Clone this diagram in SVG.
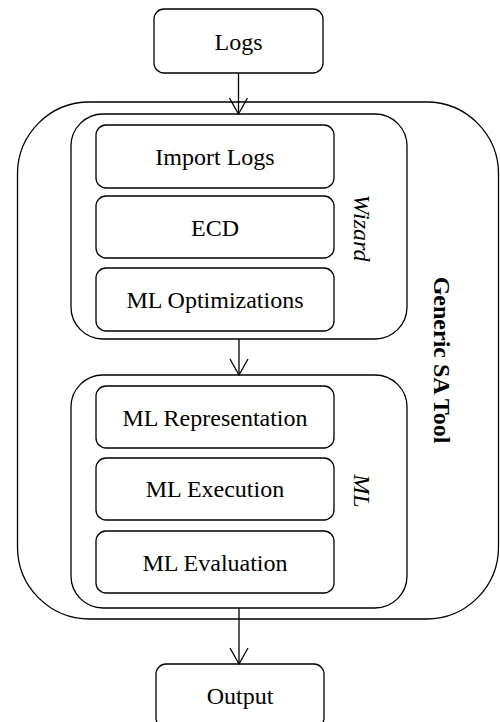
<svg xmlns="http://www.w3.org/2000/svg" width="500" height="722" viewBox="0 0 500 722">
<style>
.box{fill:#fff;stroke:#000;stroke-width:1.3}
.grp{fill:none;stroke:#000;stroke-width:1.3}
text{font-family:"Liberation Serif","DejaVu Serif",serif;font-size:24px;fill:#000;text-anchor:middle}
.it{font-style:italic}
.b{font-weight:bold}
.conn{fill:none;stroke:#000;stroke-width:1.3}
</style>
<defs>
<marker id="arr" markerUnits="userSpaceOnUse" markerWidth="20" markerHeight="20" viewBox="0 0 20 20" refX="17" refY="10" orient="auto">
<path d="M1,1 L17,10 L1,19" fill="none" stroke="#000" stroke-width="1.3"/>
</marker>
</defs>
<g id="generic-sa-tool">
<rect class="grp" x="17.5" y="102" width="481" height="517" rx="72"/>
<text class="b" font-family="Liberation Serif, serif" transform="translate(434 360) rotate(90)">Generic SA Tool</text>
</g>
<g id="wizard">
<rect class="grp" x="71" y="114" width="336" height="225" rx="32"/>
<text class="it" font-family="Liberation Serif, serif" transform="translate(354 228) rotate(90)">Wizard</text>
</g>
<g id="ml">
<rect class="grp" x="71" y="375" width="336" height="233" rx="32"/>
<text class="it" font-family="Liberation Serif, serif" transform="translate(354 491) rotate(90)">ML</text>
</g>
<g id="logs">
<rect class="box" x="154" y="9" width="169" height="64" rx="10"/>
<text font-family="Liberation Serif, serif" x="238.5" y="50">Logs</text>
</g>
<g id="import-logs">
<rect class="box" x="96" y="125" width="238" height="63" rx="10"/>
<text font-family="Liberation Serif, serif" x="215" y="165">Import Logs</text>
</g>
<g id="ecd">
<rect class="box" x="96" y="196" width="238" height="62" rx="10"/>
<text font-family="Liberation Serif, serif" x="215" y="235.5">ECD</text>
</g>
<g id="ml-optimizations">
<rect class="box" x="96" y="268" width="238" height="63" rx="10"/>
<text font-family="Liberation Serif, serif" x="215" y="308">ML Optimizations</text>
</g>
<g id="ml-representation">
<rect class="box" x="96" y="386" width="238" height="62" rx="10"/>
<text font-family="Liberation Serif, serif" x="215" y="425.5">ML Representation</text>
</g>
<g id="ml-execution">
<rect class="box" x="96" y="458" width="238" height="62" rx="10"/>
<text font-family="Liberation Serif, serif" x="215" y="497">ML Execution</text>
</g>
<g id="ml-evaluation">
<rect class="box" x="96" y="531" width="238" height="62" rx="10"/>
<text font-family="Liberation Serif, serif" x="215" y="570.5">ML Evaluation</text>
</g>
<g id="output">
<rect class="box" x="156" y="664" width="168" height="64" rx="10"/>
<text font-family="Liberation Serif, serif" x="240" y="703.5">Output</text>
</g>
<g id="connectors">
<line class="conn" x1="238.5" y1="73" x2="238.5" y2="114" marker-end="url(#arr)"/>
<line class="conn" x1="239" y1="339" x2="239" y2="375" marker-end="url(#arr)"/>
<line class="conn" x1="239" y1="608" x2="239" y2="664" marker-end="url(#arr)"/>
</g>
</svg>
